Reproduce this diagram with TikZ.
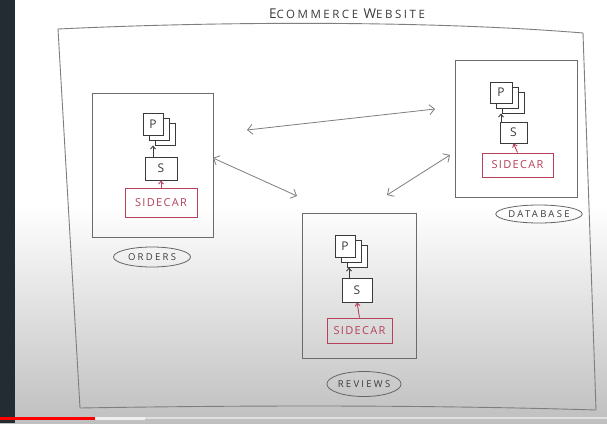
\documentclass[tikz,border=0pt]{standalone}
\usepackage{fontspec}
\setmainfont{Open Sans}
\usetikzlibrary{arrows.meta,calc,shapes.geometric}
\definecolor{pencil}{HTML}{7E7E7E}
\definecolor{ink}{HTML}{3A3A3A}
\definecolor{redink}{HTML}{B5415A}
\definecolor{strip}{HTML}{232C33}
\begin{document}
\begin{tikzpicture}[x=1pt,y=-1pt,
  svcbox/.style={draw=pencil!85!black, line width=1pt, inner sep=0pt},
  pbox/.style={draw=ink, line width=0.9pt, fill=white, inner sep=0pt, text=ink, font=\fontsize{12}{12}\selectfont},
  carbox/.style={draw=redink, line width=0.9pt, inner sep=0pt, text=redink, font=\fontsize{11}{11}\selectfont\addfontfeatures{LetterSpace=12}},
  tag/.style={draw=pencil!80!black, line width=0.8pt, ellipse, inner sep=0pt, text=ink, font=\fontsize{9.5}{9.5}\selectfont\addfontfeatures{LetterSpace=24}},
  link/.style={draw=pencil, line width=0.8pt, {Straight Barb[length=5pt,width=10pt]}-{Straight Barb[length=5pt,width=10pt]}},
  uparrow/.style={draw=ink, line width=0.9pt, -{Straight Barb[length=3pt,width=5pt]}},
  redarrow/.style={uparrow, draw=redink}]
\useasboundingbox (0,0) rectangle (607,423);
% background
\fill[white] (0,0) rectangle (607,423);
\shade[top color=white, bottom color=gray!50!white] (0,205) rectangle (607,423);
\fill[strip] (0,0) rectangle (15,423);
\fill[red] (0,416.5) rectangle (95,419.5);
\fill[white!88!gray] (95,416.5) rectangle (145,419.5);
\fill[white!75!gray] (145,417) rectangle (607,419);

% outer frame
\draw[pencil, line width=0.9pt] (58,29) .. controls (250,20) and (450,22) .. (583,33)
  -- (596,410) .. controls (400,404) and (200,406) .. (80,408) -- cycle;
\node[text=ink, font=\fontsize{11.5}{11.5}\selectfont\addfontfeatures{LetterSpace=22}] (title) at (347,14)
  {{\fontsize{13.5}{13.5}\selectfont E}COMMERCE {\fontsize{13.5}{13.5}\selectfont W}EBSITE};

% ---- ORDERS ----
\node[svcbox, minimum width=121pt, minimum height=144pt] (obox) at (152.5,165) {};
\node[pbox, minimum width=20pt, minimum height=22pt] (oPb2) at (165,134) {};
\node[pbox, minimum width=20pt, minimum height=22pt] (oPb1) at (159,129) {};
\node[pbox, minimum width=20pt, minimum height=22pt] (oP) at (153,124) {P};
\node[pbox, minimum width=32pt, minimum height=23pt] (oS) at (161,168.5) {S};
\node[carbox, minimum width=72pt, minimum height=29pt] (oC) at (161,202.5) {SIDECAR};
\node[tag, minimum width=77pt, minimum height=20pt] (oT) at (152,257) {ORDERS};
\draw[uparrow] (oP.center |- oS.north) -- (oP.center |- oPb2.south);
\draw[redarrow] (oC.north) -- (oS.south);

% ---- DATABASE ----
\node[svcbox, minimum width=122pt, minimum height=137pt] (dbox) at (516,128.5) {};
\node[pbox, minimum width=22pt, minimum height=21pt] (dPb2) at (513,102.5) {};
\node[pbox, minimum width=22pt, minimum height=21pt] (dPb1) at (507,97.5) {};
\node[pbox, minimum width=22pt, minimum height=21pt] (dP) at (501,92.5) {P};
\node[pbox, minimum width=27pt, minimum height=21pt] (dS) at (513.5,132.5) {S};
\node[carbox, minimum width=71pt, minimum height=24pt] (dC) at (517.5,165) {SIDECAR};
\node[tag, minimum width=82pt, minimum height=18pt] (dT) at (539,214) {DATABASE};
\draw[uparrow] (dP.center |- dS.north) -- (dP.center |- dPb2.south);
\draw[redarrow] (dC.north) -- (dS.south);

% ---- REVIEWS ----
\node[svcbox, minimum width=114pt, minimum height=145pt] (rbox) at (359,285.5) {};
\node[pbox, minimum width=20pt, minimum height=22pt] (rPb2) at (357,256) {};
\node[pbox, minimum width=20pt, minimum height=22pt] (rPb1) at (351,251) {};
\node[pbox, minimum width=20pt, minimum height=22pt] (rP) at (345,246) {P};
\node[pbox, minimum width=30pt, minimum height=24pt] (rS) at (357,290) {S};
\node[carbox, minimum width=65pt, minimum height=25pt] (rC) at (359.5,330.5) {SIDECAR};
\node[tag, minimum width=72pt, minimum height=25pt] (rT) at (364,384) {REVIEWS};
\draw[uparrow] ($(rP.center |- rS.north)+(4,0)$) -- ($(rP.center |- rPb2.south)+(4,0)$);
\draw[redarrow] (rC.north) -- (rS.south);

% ---- links ----
\coordinate (l1a) at (247,130);
\coordinate (l1b) at (435,109);
\coordinate (l2a) at (213,158);
\coordinate (l2b) at (297,196);
\coordinate (l3a) at (450,155);
\coordinate (l3b) at (387,195);
\draw[link] (l1a) -- (l1b);
\draw[link] (l2a) -- (l2b);
\draw[link] (l3a) -- (l3b);
\end{tikzpicture}
\end{document}
